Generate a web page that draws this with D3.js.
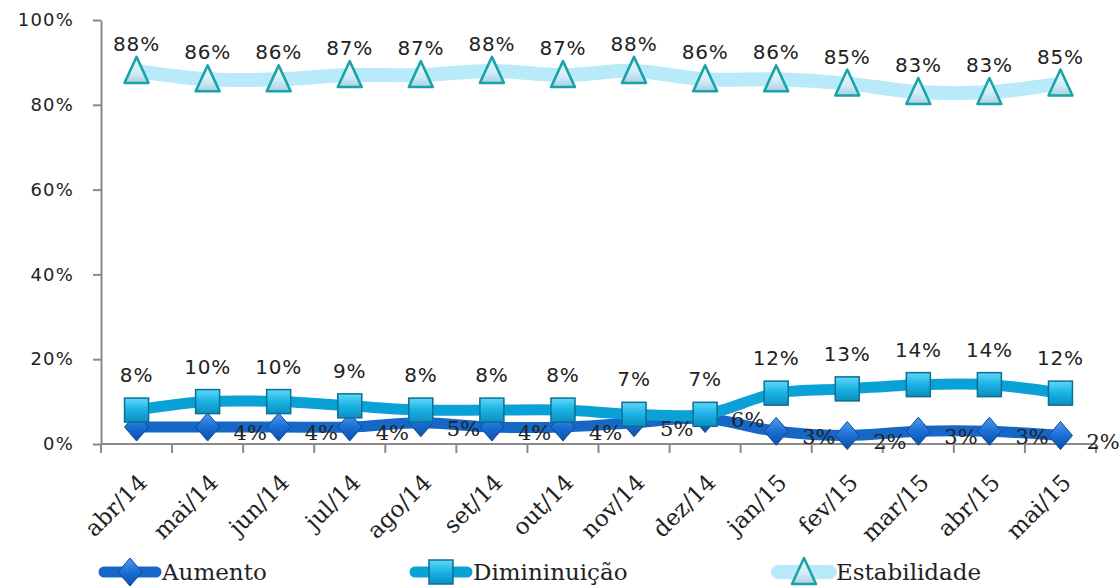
<!DOCTYPE html>
<html>
<head>
<meta charset="utf-8">
<script src="https://cdn.jsdelivr.net/npm/d3@7"></script>
<style>
  body { margin: 0; background: #fff; }
  svg { display: block; }
</style>
</head>
<body>
<div id="chart"></div>
<script>
// dados
const categories = ["abr/14", "mai/14", "jun/14", "jul/14", "ago/14", "set/14", "out/14",
  "nov/14", "dez/14", "jan/15", "fev/15", "mar/15", "abr/15", "mai/15"];
const aumento = [4, 4, 4, 4, 5, 4, 4, 5, 6, 3, 2, 3, 3, 2];
const diminuicao = [8, 10, 10, 9, 8, 8, 8, 7, 7, 12, 13, 14, 14, 12];
const estabilidade = [88, 86, 86, 87, 87, 88, 87, 88, 86, 86, 85, 83, 83, 85];
const seriesNames = ["Aumento", "Dimininuição", "Estabilidade"];
const yTicks = [0, 20, 40, 60, 80, 100];

const width = 1120, height = 587;
const margin = { left: 101, right: 24, top: 20, bottom: 143 };

const sansFont = "'DejaVu Sans', Lato, sans-serif";
const serifFont = "'DejaVu Serif', 'Liberation Serif', serif";

const svg = d3.select("#chart").append("svg")
  .attr("width", width)
  .attr("height", height);

const defs = svg.append("defs");

// gradientes dos marcadores
const grad = (id, stops) => {
  const g = defs.append("linearGradient").attr("id", id)
    .attr("x1", 0).attr("y1", 0).attr("x2", 0).attr("y2", 1);
  stops.forEach(([o, c]) => g.append("stop").attr("offset", o).attr("stop-color", c));
};
grad("gAum", [[0, "#4f9bf0"], [0.5, "#1a6fd4"], [1, "#0d4fa8"]]);
grad("gDim", [[0, "#5fd8f7"], [0.5, "#19b2e3"], [1, "#0c8fc0"]]);
grad("gEst", [[0, "#eef9fd"], [0.6, "#d2ecf6"], [1, "#aacfe0"]]);

const x = d3.scaleBand()
  .domain(categories)
  .range([margin.left, width - margin.right]);

const y = d3.scaleLinear()
  .domain([0, 100])
  .range([height - margin.bottom, margin.top]);

const cx = (i) => x(categories[i]) + x.bandwidth() / 2;

// eixo Y
const yAxis = svg.append("g")
  .attr("transform", `translate(${margin.left},0)`)
  .call(d3.axisLeft(y).tickValues(yTicks).tickFormat((d) => d + "%").tickSize(8).tickSizeOuter(0));
yAxis.select(".domain").attr("stroke", "#8a8a8a").attr("stroke-width", 2);
yAxis.selectAll(".tick line").attr("stroke", "#8a8a8a").attr("stroke-width", 2);
yAxis.selectAll(".tick text")
  .attr("x", -27)
  .attr("font-family", sansFont)
  .attr("font-size", 18)
  .attr("letter-spacing", 1.2)
  .attr("fill", "#222");

// eixo X
const y0 = y(0);
svg.append("line")
  .attr("x1", margin.left).attr("x2", width - margin.right)
  .attr("y1", y0).attr("y2", y0)
  .attr("stroke", "#8a8a8a").attr("stroke-width", 2);
const bounds = categories.map((c) => x(c)).concat([x.range()[1]]);
svg.append("g").selectAll("line")
  .data(bounds)
  .join("line")
  .attr("x1", (d) => d).attr("x2", (d) => d)
  .attr("y1", y0).attr("y2", y0 + 9)
  .attr("stroke", "#8a8a8a").attr("stroke-width", 2);

svg.append("g").selectAll("text")
  .data(categories)
  .join("text")
  .attr("transform", (d, i) => `translate(${cx(i) + 12},${y0 + 40}) rotate(-45)`)
  .attr("text-anchor", "end")
  .attr("font-family", serifFont)
  .attr("font-size", 23)
  .attr("fill", "#222")
  .text((d) => d);

// marcadores
const diamond = (g) => g.append("path")
  .attr("d", "M0,-14 L12,0 L0,14 L-12,0 Z")
  .attr("fill", "url(#gAum)").attr("stroke", "#0d4a9c").attr("stroke-width", 1);
const square = (g) => g.append("rect")
  .attr("x", -12).attr("y", -12).attr("width", 24).attr("height", 24)
  .attr("fill", "url(#gDim)").attr("stroke", "#0b6e96").attr("stroke-width", 1.5);
const triangle = (g) => g.append("path")
  .attr("d", "M0,-14 L12,12 L-12,12 Z")
  .attr("fill", "url(#gEst)").attr("stroke", "#18a3a8").attr("stroke-width", 2.5)
  .attr("stroke-linejoin", "round");

const series = [
  { name: seriesNames[0], values: aumento, color: "#1767c6", width: 11, marker: diamond },
  { name: seriesNames[1], values: diminuicao, color: "#0aa1d6", width: 11, marker: square },
  { name: seriesNames[2], values: estabilidade, color: "#b8eaf9", width: 14, marker: triangle }
];

const line = d3.line()
  .x((d, i) => cx(i))
  .y((d) => y(d))
  .curve(d3.curveCatmullRom.alpha(0.5));

series.forEach((s) => {
  svg.append("path")
    .datum(s.values)
    .attr("d", line)
    .attr("fill", "none")
    .attr("stroke", s.color)
    .attr("stroke-width", s.width)
    .attr("stroke-linecap", "round")
    .attr("stroke-linejoin", "round");

  svg.append("g").selectAll("g")
    .data(s.values)
    .join("g")
    .attr("transform", (d, i) => `translate(${cx(i)},${y(d)})`)
    .each(function () { s.marker(d3.select(this)); });
});

// rótulos de dados
svg.append("g").selectAll("text")
  .data(estabilidade)
  .join("text")
  .attr("x", (d, i) => cx(i))
  .attr("y", (d) => y(d) - 20)
  .attr("text-anchor", "middle")
  .attr("font-family", sansFont)
  .attr("font-size", 20)
  .attr("letter-spacing", 0.8)
  .attr("fill", "#222")
  .text((d) => d + "%");

svg.append("g").selectAll("text")
  .data(diminuicao)
  .join("text")
  .attr("x", (d, i) => cx(i))
  .attr("y", (d) => y(d) - 28)
  .attr("text-anchor", "middle")
  .attr("font-family", sansFont)
  .attr("font-size", 20)
  .attr("letter-spacing", 0.8)
  .attr("fill", "#222")
  .text((d) => d + "%");

// o rótulo de abr/14 não aparece no original
svg.append("g").selectAll("text")
  .data(aumento.slice(1))
  .join("text")
  .attr("x", (d, i) => cx(i + 1) + 26)
  .attr("y", (d, i) => i + 1 === 8 ? y(d) + 8 : y(d) + 13)
  .attr("font-family", serifFont)
  .attr("font-size", 21)
  .attr("fill", "#222")
  .text((d) => d + "%");

// legenda
const legendX = [130, 441, 804];
const legendY = 572;
series.forEach((s, i) => {
  const g = svg.append("g").attr("transform", `translate(${legendX[i]},${legendY})`);
  g.append("line")
    .attr("x1", -26).attr("x2", 26)
    .attr("stroke", s.color).attr("stroke-width", s.width)
    .attr("stroke-linecap", "round");
  s.marker(g);
  g.append("text")
    .attr("x", 32)
    .attr("y", 8)
    .attr("font-family", serifFont)
    .attr("font-size", 23)
    .attr("fill", "#222")
    .text(s.name);
});
</script>
</body>
</html>
